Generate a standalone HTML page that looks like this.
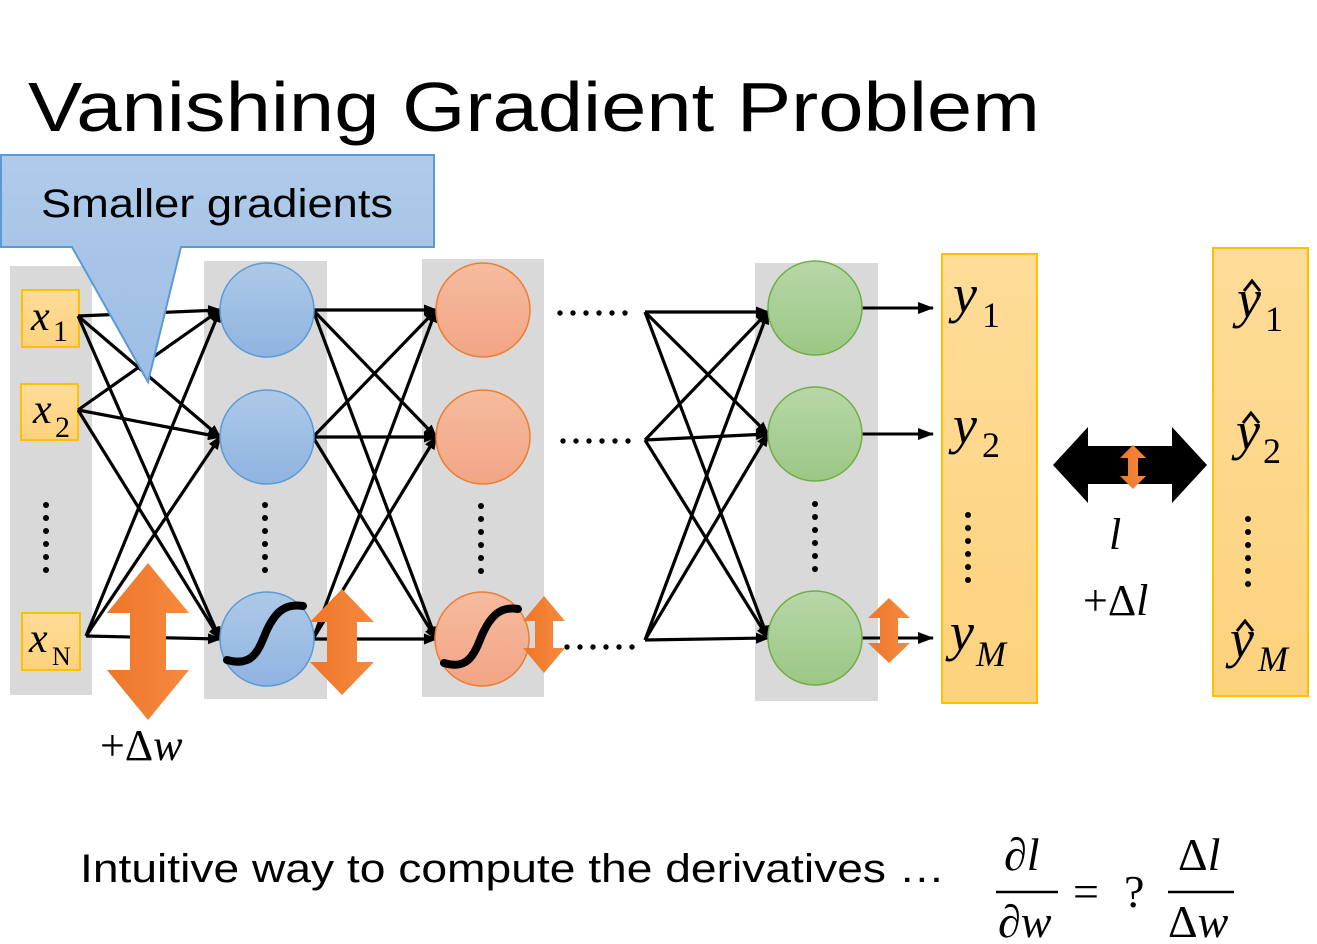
<!DOCTYPE html>
<html><head><meta charset="utf-8"><style>
html,body{margin:0;padding:0;background:#fff;width:1317px;height:944px;overflow:hidden}
svg{display:block}
</style></head><body>
<svg width="1317" height="944" viewBox="0 0 1317 944" xmlns="http://www.w3.org/2000/svg">
<defs>
<marker id="ah" markerWidth="14" markerHeight="11" refX="12" refY="5.5" orient="auto" markerUnits="userSpaceOnUse">
<path d="M0,0 L14,5.5 L0,11 Z" fill="#000"/></marker>
<marker id="ah2" markerWidth="16" markerHeight="12" refX="15" refY="6" orient="auto" markerUnits="userSpaceOnUse">
<path d="M0,0 L16,6 L0,12 Z" fill="#000"/></marker>
<linearGradient id="gb" x1="0" y1="0" x2="0" y2="1"><stop offset="0" stop-color="#adc9e8"/><stop offset="1" stop-color="#8fb4e0"/></linearGradient>
<linearGradient id="go" x1="0" y1="0" x2="0" y2="1"><stop offset="0" stop-color="#f6bb9e"/><stop offset="1" stop-color="#f2a585"/></linearGradient>
<linearGradient id="gg" x1="0" y1="0" x2="0" y2="1"><stop offset="0" stop-color="#b7d7a8"/><stop offset="1" stop-color="#9bc784"/></linearGradient>
<linearGradient id="gy" x1="0" y1="0" x2="0" y2="1"><stop offset="0" stop-color="#fedc98"/><stop offset="1" stop-color="#fdd27d"/></linearGradient>
<linearGradient id="gc" x1="0" y1="0" x2="0" y2="1"><stop offset="0" stop-color="#b0cbea"/><stop offset="1" stop-color="#9dbde5"/></linearGradient>
<linearGradient id="gor" x1="0" y1="0" x2="1" y2="0"><stop offset="0" stop-color="#ee7628"/><stop offset="1" stop-color="#f58a40"/></linearGradient>
<g id="vd" fill="#000"><circle cx="0" cy="0" r="3"/><circle cx="0" cy="13" r="3"/><circle cx="0" cy="26" r="3"/><circle cx="0" cy="39" r="3"/><circle cx="0" cy="52" r="3"/><circle cx="0" cy="65" r="3"/></g>
<g id="hd" fill="#000"><circle cx="0" cy="0" r="2.7"/><circle cx="13" cy="0" r="2.7"/><circle cx="26" cy="0" r="2.7"/><circle cx="39" cy="0" r="2.7"/><circle cx="52" cy="0" r="2.7"/><circle cx="65" cy="0" r="2.7"/></g>
</defs>

<text x="28" y="131" font-family="Liberation Sans, sans-serif" font-size="70" textLength="1012" lengthAdjust="spacingAndGlyphs" fill="#000">Vanishing Gradient Problem</text>

<rect x="10" y="266" width="82" height="429" fill="#d9d9d9"/>
<rect x="204" y="261" width="123" height="438" fill="#d9d9d9"/>
<rect x="422" y="259" width="122" height="438" fill="#d9d9d9"/>
<rect x="755" y="263" width="123" height="438" fill="#d9d9d9"/>

<g font-family="Liberation Serif, serif" font-style="italic" font-size="42" fill="#000">
<rect x="22" y="290" width="57" height="57" fill="url(#gy)" stroke="#ffc000" stroke-width="2"/>
<text x="31" y="330">x</text><text x="53" y="341" font-style="normal" font-size="30">1</text>
<rect x="21" y="384" width="57" height="56" fill="url(#gy)" stroke="#ffc000" stroke-width="2"/>
<text x="33" y="423">x</text><text x="55" y="437" font-style="normal" font-size="30">2</text>
<rect x="22" y="613" width="58" height="57" fill="url(#gy)" stroke="#ffc000" stroke-width="2"/>
<text x="29" y="652">x</text><text x="52" y="665" font-style="normal" font-size="26">N</text>
</g>

<use href="#vd" x="46" y="505"/>
<use href="#vd" x="265" y="505"/>
<use href="#vd" x="481" y="506"/>
<use href="#vd" x="815" y="504"/>

<use href="#hd" x="560" y="313"/>
<use href="#hd" x="563" y="441"/>
<use href="#hd" x="567" y="647"/>

<g stroke="#000" stroke-width="3.2" fill="none" marker-end="url(#ah)">
<line x1="78" y1="316" x2="220" y2="310"/><line x1="78" y1="316" x2="220" y2="437"/><line x1="78" y1="316" x2="220" y2="639"/>
<line x1="78" y1="410" x2="220" y2="310"/><line x1="78" y1="410" x2="220" y2="437"/><line x1="78" y1="410" x2="220" y2="639"/>
<line x1="86" y1="636" x2="220" y2="310"/><line x1="86" y1="636" x2="220" y2="437"/><line x1="86" y1="636" x2="220" y2="639"/>
<line x1="313" y1="310" x2="436" y2="310"/><line x1="313" y1="310" x2="436" y2="437"/><line x1="313" y1="310" x2="436" y2="639"/>
<line x1="313" y1="437" x2="436" y2="310"/><line x1="313" y1="437" x2="436" y2="437"/><line x1="313" y1="437" x2="436" y2="639"/>
<line x1="313" y1="639" x2="436" y2="310"/><line x1="313" y1="639" x2="436" y2="437"/><line x1="313" y1="639" x2="436" y2="639"/>
<line x1="645" y1="312" x2="768" y2="312"/><line x1="645" y1="312" x2="768" y2="434"/><line x1="645" y1="312" x2="768" y2="638"/>
<line x1="645" y1="440" x2="768" y2="312"/><line x1="645" y1="440" x2="768" y2="434"/><line x1="645" y1="440" x2="768" y2="638"/>
<line x1="645" y1="640" x2="768" y2="312"/><line x1="645" y1="640" x2="768" y2="434"/><line x1="645" y1="640" x2="768" y2="638"/>
</g>
<g stroke="#000" stroke-width="3" marker-end="url(#ah2)">
<line x1="862" y1="308" x2="933" y2="308"/>
<line x1="862" y1="434" x2="933" y2="434"/>
<line x1="862" y1="638" x2="933" y2="638"/>
</g>

<g stroke="#5b9bd5" stroke-width="1.5" fill="url(#gb)">
<circle cx="267" cy="310" r="47"/><circle cx="267" cy="437" r="47"/><circle cx="267" cy="639" r="47"/>
</g>
<g stroke="#ed7d31" stroke-width="1.5" fill="url(#go)">
<circle cx="483" cy="310" r="47"/><circle cx="483" cy="437" r="47"/><circle cx="482" cy="639" r="47"/>
</g>
<g stroke="#70ad47" stroke-width="1.5" fill="url(#gg)">
<circle cx="815" cy="308" r="47"/><circle cx="815" cy="434" r="47"/><circle cx="815" cy="638" r="47"/>
</g>

<g stroke="#000" stroke-width="8" fill="none" stroke-linecap="round">
<path d="M227,660 C252,667 258,652 266,632 C275,612 285,603 303,606"/>
<path d="M444,663 C468,670 474,655 482,635 C491,615 501,606 518,609"/>
</g>

<path d="M1,155 L434,155 L434,247 L181,247 L148,382 L72,247 L1,247 Z" fill="url(#gc)" stroke="#5b9bd5" stroke-width="2"/>
<path d="M73,246 L180,246" stroke="#a9c6e8" stroke-width="3"/>
<text x="41" y="217" font-family="Liberation Sans, sans-serif" font-size="40" textLength="352" lengthAdjust="spacingAndGlyphs" fill="#000">Smaller gradients</text>

<g fill="url(#gor)">
<path d="M148,563 L189,613 L166,613 L166,670 L189,670 L148,720 L107,670 L130,670 L130,613 L107,613Z"/>
<path d="M342,589 L374,622 L357,622 L357,662 L374,662 L342,695 L310,662 L327,662 L327,622 L310,622Z"/>
<path d="M544,596 L565,621 L553,621 L553,648 L565,648 L544,673 L523,648 L535,648 L535,621 L523,621Z"/>
<path d="M889,598 L910,618 L898,618 L898,643 L910,643 L889,663 L868,643 L880,643 L880,618 L868,618Z"/>
</g>

<rect x="942" y="254" width="95" height="449" fill="url(#gy)" stroke="#ffc000" stroke-width="2"/>
<rect x="1213" y="248" width="95" height="448" fill="url(#gy)" stroke="#ffc000" stroke-width="2"/>
<use href="#vd" x="968" y="515"/>
<use href="#vd" x="1248" y="519"/>
<g font-family="Liberation Serif, serif" fill="#000">
<text x="953" y="312" font-style="italic" font-size="54">y</text><text x="982" y="327" font-size="36">1</text>
<text x="953" y="443" font-style="italic" font-size="54">y</text><text x="982" y="457" font-size="36">2</text>
<text x="950" y="650" font-style="italic" font-size="54">y</text><text x="976" y="666" font-style="italic" font-size="36">M</text>
<text x="1237" y="317" font-style="italic" font-size="54">y</text><text x="1265" y="331" font-size="36">1</text>
<text x="1236" y="449" font-style="italic" font-size="54">y</text><text x="1263" y="463" font-size="36">2</text>
<text x="1230" y="657" font-style="italic" font-size="54">y</text><text x="1258" y="671" font-style="italic" font-size="36">M</text>
</g>
<g stroke="#000" stroke-width="3" fill="none">
<path d="M1244,291 L1252,281 L1260,291"/>
<path d="M1243,423 L1251,413 L1259,423"/>
<path d="M1237,631 L1245,621 L1253,631"/>
</g>

<path d="M1053,465 L1088,427 L1088,446 L1172,446 L1172,427 L1207,465 L1172,503 L1172,484 L1088,484 L1088,503Z" fill="#000"/>
<path d="M1133,445 L1146,458 L1138,458 L1138,476 L1146,476 L1133,489 L1120,476 L1128,476 L1128,458 L1120,458Z" fill="url(#gor)"/>

<g font-family="Liberation Serif, serif" fill="#000" font-size="44">
<text x="1109" y="549" font-style="italic">l</text>
<text x="1083" y="615">+Δ<tspan font-style="italic">l</tspan></text>
<text x="100" y="760">+Δ<tspan font-style="italic">w</tspan></text>
</g>

<text x="80" y="882" font-family="Liberation Sans, sans-serif" font-size="40" textLength="865" lengthAdjust="spacingAndGlyphs" fill="#000">Intuitive way to compute the derivatives …</text>
<g font-family="Liberation Serif, serif" fill="#000" font-size="46">
<text x="1004" y="870">∂<tspan font-style="italic">l</tspan></text>
<line x1="996" y1="892" x2="1058" y2="892" stroke="#000" stroke-width="2.5"/>
<text x="998" y="937">∂<tspan font-style="italic">w</tspan></text>
<text x="1073" y="907">=</text>
<text x="1124" y="907">?</text>
<text x="1178" y="870">Δ<tspan font-style="italic">l</tspan></text>
<line x1="1168" y1="892" x2="1234" y2="892" stroke="#000" stroke-width="2.5"/>
<text x="1168" y="937">Δ<tspan font-style="italic">w</tspan></text>
</g>
</svg>
</body></html>
